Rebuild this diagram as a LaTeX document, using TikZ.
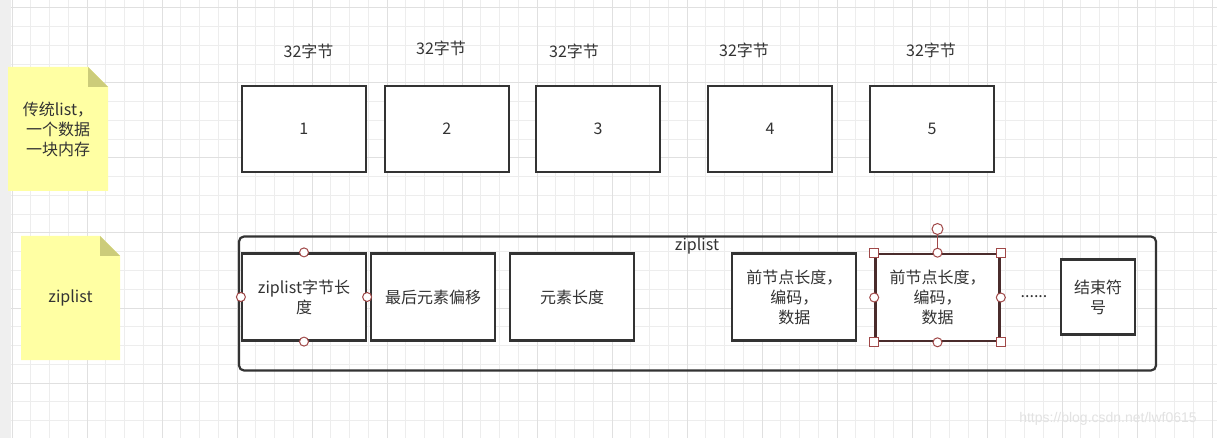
\documentclass[tikz,border=0pt]{standalone}
\usepackage{fontspec}
\setmainfont{Noto Sans CJK SC}
\newfontfamily\wmfont{Liberation Sans}
\definecolor{ink}{HTML}{333333}
\definecolor{gridminor}{HTML}{EDEDED}
\definecolor{gridmajor}{HTML}{E0E0E0}
\definecolor{strip}{HTML}{EFEFEF}
\definecolor{notefill}{HTML}{FFFFA3}
\definecolor{notefold}{HTML}{CCCC7A}
\definecolor{handle}{HTML}{A04848}
\definecolor{selbox}{HTML}{4A2C2C}
\definecolor{wm}{HTML}{E2E2E2}
\tikzset{
  txt/.style={text=ink, font=\fontsize{16}{20}\selectfont, align=center, inner sep=0pt},
  box/.style={txt, draw=ink, line width=2.2pt, fill=white, minimum width=124pt, minimum height=86pt},
  ibox/.style={box, minimum height=87pt},
  hcirc/.style={circle, draw=handle, fill=white, line width=1pt, minimum size=9pt, inner sep=0pt},
  hsq/.style={rectangle, draw=handle, fill=white, line width=1pt, minimum size=9pt, inner sep=0pt},
  notebody/.style={fill=notefill},
  notecorner/.style={fill=notefold},
}
\begin{document}
\begin{tikzpicture}[x=1pt,y=-1pt]
\useasboundingbox (0,0) rectangle (1217,438);
\fill[white] (0,0) rectangle (1217,438);
\fill[strip] (0,0) rectangle (11,438);
\begin{scope}
\clip (11,0) rectangle (1217,438);
\foreach \xx in {12,30.75,...,1220} \draw[gridminor, line width=1pt] (\xx,0) -- (\xx,438);
\foreach \yy in {-10.75,8,...,440} \draw[gridminor, line width=1pt] (11,\yy) -- (1217,\yy);
\foreach \xx in {12,87,...,1220} \draw[gridmajor, line width=1pt] (\xx,0) -- (\xx,438);
\foreach \yy in {8,83,...,440} \draw[gridmajor, line width=1pt] (11,\yy) -- (1217,\yy);
\end{scope}

% sticky notes
\fill[notebody] (8,67) -- (88,67) -- (108,87) -- (108,191) -- (8,191) -- cycle;
\fill[notecorner] (88,67) -- (108,87) -- (88,87) -- cycle;
\node[txt] (n1) at (58,129) {传统list，\\一个数据\\一块内存};
\fill[notebody] (21,236) -- (100,236) -- (120,256) -- (120,360) -- (21,360) -- cycle;
\fill[notecorner] (100,236) -- (120,256) -- (100,256) -- cycle;
\node[txt] (n2) at (70.5,298) {ziplist};

% traditional list
\node[txt] (l1) at (308.5,51) {32字节};
\node[txt] (l2) at (441,48) {32字节};
\node[txt] (l3) at (574,51) {32字节};
\node[txt] (l4) at (744,50) {32字节};
\node[txt] (l5) at (931,50) {32字节};
\node[box] (b1) at (303.7,128.7) {1};
\node[box] (b2) at (446.7,128.7) {2};
\node[box] (b3) at (598,128.7) {3};
\node[box] (b4) at (770,128.7) {4};
\node[box] (b5) at (932,128.7) {5};

% ziplist container
\node[draw=ink, line width=2.2pt, rounded corners=5pt, minimum width=917pt, minimum height=134pt, inner sep=0pt] (zl) at (697.5,303.5) {};
\node[txt] (zlt) at (697,246) {ziplist};

\node[ibox] (za) at (304,297) {ziplist字节长\\度};
\node[ibox] (zb) at (433,297) {最后元素偏移};
\node[ibox] (zc) at (572,297) {元素长度};
\node[ibox] (zd) at (794.3,297) {前节点长度，\\编码，\\数据};
\node[ibox, draw=selbox, line width=2.6pt] (ze) at (937.5,297.5) {前节点长度，\\编码，\\数据};
\node[txt] (dots) at (1034,297) {......};
\node[box, minimum width=74pt, minimum height=75pt] (zf) at (1098,297) {结束符\\号};

% selection handles on first box
\node[hcirc] (ha1) at (za.north) {};
\node[hcirc] (ha2) at (za.south) {};
\node[hcirc] (ha3) at (za.west) {};
\node[hcirc] (ha4) at (za.east) {};

% selection handles on selected box
\node[hcirc, minimum size=11pt] (rot) at (937.5,229) {};
\draw[handle, line width=1.2pt] (rot) -- (ze.north);
\node[hcirc] (he1) at (ze.north) {};
\node[hcirc] (he2) at (ze.south) {};
\node[hcirc] (he3) at (ze.west) {};
\node[hcirc] (he4) at (ze.east) {};
\node[hsq] (hs1) at (ze.north west) {};
\node[hsq] (hs2) at (ze.north east) {};
\node[hsq] (hs3) at (ze.south west) {};
\node[hsq] (hs4) at (ze.south east) {};

% watermark
\node[text=wm, font=\wmfont\fontsize{14}{16}\selectfont, inner sep=0pt] (wm) at (1108,419) {https://blog.csdn.net/lwf0615};
\end{tikzpicture}
\end{document}
